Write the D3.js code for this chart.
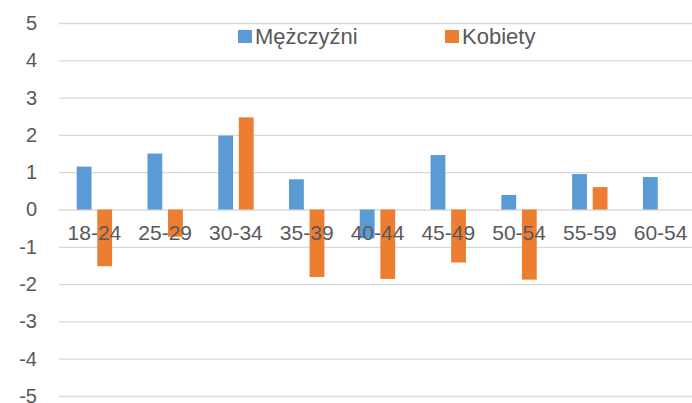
<!DOCTYPE html>
<html>
<head>
<meta charset="utf-8">
<script src="https://cdn.jsdelivr.net/npm/d3@7"></script>
<style>
  body { margin: 0; background: #fff; }
  svg { display: block; }
  text { font-family: "Liberation Sans", Arial, sans-serif; fill: #595959; }
</style>
</head>
<body>
<svg width="692" height="403"></svg>
<script>
var categories = ["18-24", "25-29", "30-34", "35-39", "40-44", "45-49", "50-54", "55-59", "60-54"];
var seriesNames = ["Mężczyźni", "Kobiety"];
var men = [1.15, 1.5, 1.98, 0.81, -0.77, 1.46, 0.39, 0.95, 0.87];
var women = [-1.52, -0.73, 2.47, -1.81, -1.86, -1.42, -1.88, 0.6, 0];
var yTicks = [5, 4, 3, 2, 1, 0, -1, -2, -3, -4, -5];
var colors = ["#5B9BD5", "#ED7D31"];

var svg = d3.select("svg"),
    margin = {top: 23, right: -4, bottom: 7, left: 59},
    width = svg.attr("width") - margin.left - margin.right,
    height = svg.attr("height") - margin.top - margin.bottom,
    g = svg.append("g").attr("transform", "translate(" + margin.left + "," + margin.top + ")");

var x0 = d3.scaleBand().domain(categories).range([0, width]).paddingInner(0.5).paddingOuter(0.25),
    x1 = d3.scaleBand().domain(seriesNames).range([0, x0.bandwidth()]).paddingInner(0.28),
    y = d3.scaleLinear().domain([-5, 5]).range([height, 0]),
    z = d3.scaleOrdinal().domain(seriesNames).range(colors);

// gridlines + y labels (plain hyphen, like the original)
g.append("g")
    .call(d3.axisLeft(y).tickValues(yTicks).tickSize(-width).tickPadding(22).tickFormat(function(d) { return String(d); }))
    .call(function(a) {
      a.select(".domain").remove();
      a.selectAll("line").attr("stroke", "#D9D9D9").attr("stroke-width", 1.3);
      a.selectAll("text").style("font-size", "20px").attr("fill", "#595959");
    });

var rows = categories.map(function(c, i) { return {cat: c, values: [men[i], women[i]]}; });

g.selectAll(".grp")
  .data(rows)
  .enter().append("g")
    .attr("class", "grp")
    .attr("transform", function(d) { return "translate(" + x0(d.cat) + ",0)"; })
  .selectAll("rect")
  .data(function(d) { return seriesNames.map(function(s, j) { return {key: s, value: d.values[j]}; }); })
  .enter().append("rect")
    .attr("x", function(d) { return x1(d.key); })
    .attr("width", x1.bandwidth())
    .attr("y", function(d) { return y(Math.max(0, d.value)); })
    .attr("height", function(d) { return Math.abs(y(d.value) - y(0)); })
    .attr("fill", function(d) { return z(d.key); });

// category labels sit on top of the bars, just under zero
g.append("g")
    .attr("transform", "translate(0," + y(0) + ")")
    .call(d3.axisBottom(x0).tickSize(0).tickPadding(16))
    .call(function(a) {
      a.select(".domain").remove();
      a.selectAll("text").style("font-size", "21px").attr("fill", "#595959");
    });

// legend
var legend = svg.append("g").selectAll(".leg")
  .data([{name: seriesNames[0], x: 238}, {name: seriesNames[1], x: 445}])
  .enter().append("g")
    .attr("class", "leg")
    .attr("transform", function(d) { return "translate(" + d.x + ",30)"; });

legend.append("rect")
    .attr("width", 14)
    .attr("height", 13)
    .attr("fill", function(d) { return z(d.name); });

legend.append("text")
    .attr("x", 17)
    .attr("y", 14)
    .style("font-size", "22px")
    .text(function(d) { return d.name; });
</script>
</body>
</html>
